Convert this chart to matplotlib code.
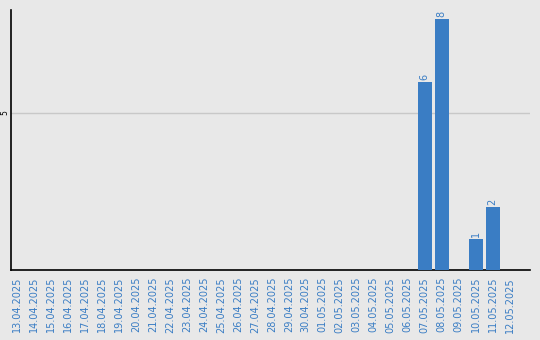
import matplotlib
matplotlib.use("Agg")
import matplotlib.pyplot as plt

dates = ["13.04.2025", "14.04.2025", "15.04.2025", "16.04.2025", "17.04.2025",
         "18.04.2025", "19.04.2025", "20.04.2025", "21.04.2025", "22.04.2025",
         "23.04.2025", "24.04.2025", "25.04.2025", "26.04.2025", "27.04.2025",
         "28.04.2025", "29.04.2025", "30.04.2025", "01.05.2025", "02.05.2025",
         "03.05.2025", "04.05.2025", "05.05.2025", "06.05.2025", "07.05.2025",
         "08.05.2025", "09.05.2025", "10.05.2025", "11.05.2025", "12.05.2025"]
counts = [0, 0, 0, 0, 0, 0, 0, 0, 0, 0, 0, 0, 0, 0, 0,
          0, 0, 0, 0, 0, 0, 0, 0, 0, 6, 8, 0, 1, 2, 0]
y_ticks = [5]

bg = "#e8e8e8"
blue = "#3a7dc4"

fig = plt.figure(figsize=(5.4, 3.4), dpi=100, facecolor=bg)
ax = fig.add_axes([11 / 540, 70 / 340, 519 / 540, 260 / 340], facecolor=bg)

x = list(range(len(dates)))
ax.bar(x, counts, width=0.82, color=blue, zorder=3)
for xi, v in zip(x, counts):
    if v:
        ax.text(xi, v + 0.06, str(v), rotation=90, ha="center", va="bottom",
                color=blue, fontsize=7, zorder=4)

ax.set_xlim(-0.35, 30.2)
ax.set_ylim(0, 8.28)
ax.set_yticks(y_ticks)
ax.set_yticklabels([str(t) for t in y_ticks], rotation=90, va="center", fontsize=5.5)
ax.set_xticks(x)
ax.set_xticklabels(dates, rotation=90, fontsize=7, color=blue)
ax.tick_params(axis="both", length=0)
ax.tick_params(axis="x", pad=5)
ax.tick_params(axis="y", pad=1)
ax.grid(axis="y", color="#c8c8c8", linewidth=1, zorder=0)
for side in ("top", "right"):
    ax.spines[side].set_visible(False)
for side in ("left", "bottom"):
    ax.spines[side].set_color("black")
    ax.spines[side].set_linewidth(1.2)

fig.savefig("out.png", dpi=100, facecolor=bg)
